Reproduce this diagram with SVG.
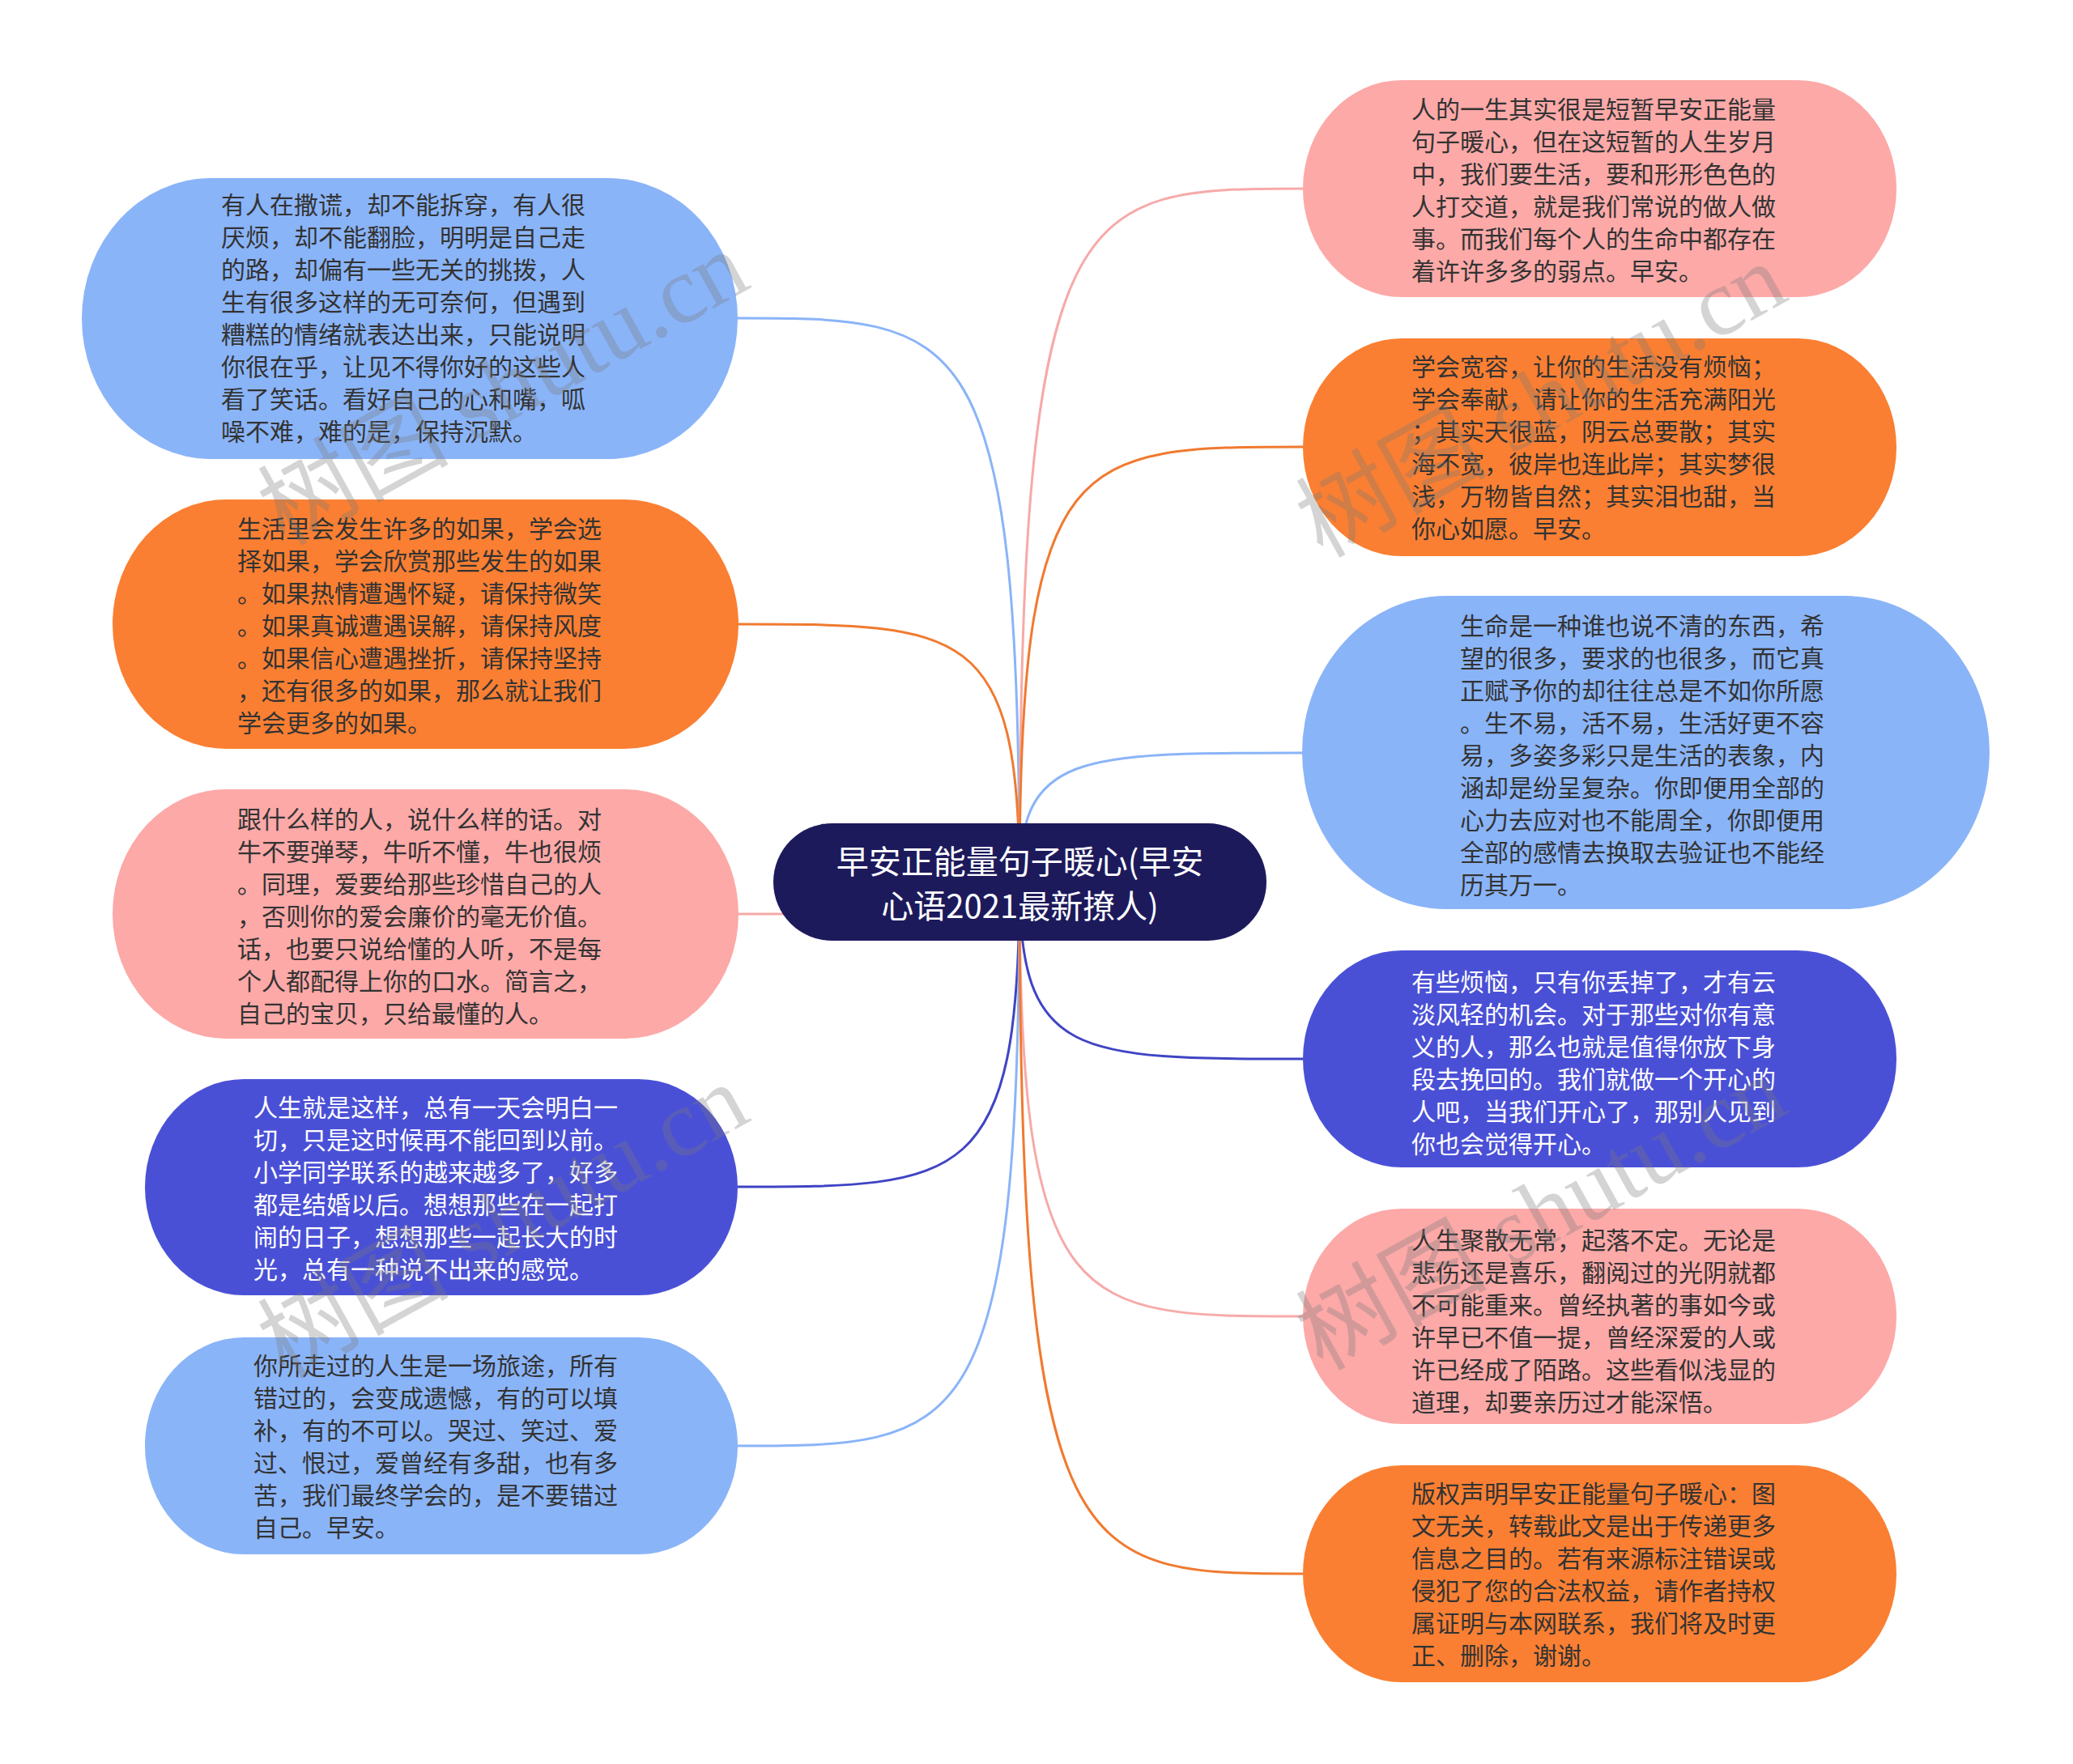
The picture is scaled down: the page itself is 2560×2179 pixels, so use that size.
<svg xmlns="http://www.w3.org/2000/svg" width="2560" height="2179" viewBox="0 0 2560 2179">
<style>
.bg{fill:#ffffff}
.t{font-family:"Noto Sans CJK SC","Noto Sans",sans-serif;font-size:30px;dominant-baseline:central}
.dk{fill:#333333}
.wt{fill:#ffffff}
.lb{fill:#8ab4f8}
.or{fill:#fa7f32}
.pk{fill:#fca9a8}
.db{fill:#4a50d6}
.nv{fill:#1d1a5c}
.c{fill:none;stroke-width:3}
.clb{stroke:#8ab4f8}
.cor{stroke:#f07a30}
.cpk{stroke:#f6aaa8}
.cdb{stroke:#3f44c4}
.title{font-family:"Noto Sans CJK SC","Noto Sans",sans-serif;font-size:40px;fill:#ffffff;dominant-baseline:central;text-anchor:middle}
.wm{font-family:"Liberation Serif","Noto Sans CJK SC",serif;font-size:118px;fill:#787878;fill-opacity:0.32}
</style>
<rect class="bg" x="0" y="0" width="2560" height="2179"/>
<g id="connectors">
<path class="c clb" d="M1259 1090 C1259 393,1189 393,911 393"/>
<path class="c cor" d="M1259 1090 C1259 771,1189 771,911 771"/>
<path class="c cpk" d="M1259 1090 C1259 1129,1189 1129,911 1129"/>
<path class="c cdb" d="M1259 1090 C1259 1466,1189 1466,911 1466"/>
<path class="c clb" d="M1259 1090 C1259 1786,1189 1786,911 1786"/>
<path class="c cpk" d="M1259 1090 C1259 233,1329 233,1609 233"/>
<path class="c cor" d="M1259 1090 C1259 552,1329 552,1609 552"/>
<path class="c clb" d="M1259 1090 C1259 930,1329 930,1608 930"/>
<path class="c cdb" d="M1259 1090 C1259 1308,1329 1308,1609 1308"/>
<path class="c cpk" d="M1259 1090 C1259 1626,1329 1626,1609 1626"/>
<path class="c cor" d="M1259 1090 C1259 1944,1329 1944,1609 1944"/>
</g>
<g id="center">
<rect class="nv" x="955" y="1017" width="609" height="145" rx="72.5" ry="72.5"/>
<text class="title" x="1259.5" y="1062">早安正能量句子暖心(早安</text>
<text class="title" x="1259.5" y="1117">心语2021最新撩人)</text>
</g>
<g id="node-l1">
<rect class="lb" x="101" y="220" width="810" height="347" rx="160" ry="173.5"/>
<text class="t dk"><tspan x="273" y="251">有人在撒谎，却不能拆穿，有人很</tspan><tspan x="273" y="291">厌烦，却不能翻脸，明明是自己走</tspan><tspan x="273" y="331">的路，却偏有一些无关的挑拨，人</tspan><tspan x="273" y="371">生有很多这样的无可奈何，但遇到</tspan><tspan x="273" y="411">糟糕的情绪就表达出来，只能说明</tspan><tspan x="273" y="451">你很在乎，让见不得你好的这些人</tspan><tspan x="273" y="491">看了笑话。看好自己的心和嘴，呱</tspan><tspan x="273" y="531">噪不难，难的是，保持沉默。</tspan></text>
</g>
<g id="node-l2">
<rect class="or" x="139" y="617" width="773" height="308" rx="140" ry="154"/>
<text class="t dk"><tspan x="293" y="651">生活里会发生许多的如果，学会选</tspan><tspan x="293" y="691">择如果，学会欣赏那些发生的如果</tspan><tspan x="293" y="731">。如果热情遭遇怀疑，请保持微笑</tspan><tspan x="293" y="771">。如果真诚遭遇误解，请保持风度</tspan><tspan x="293" y="811">。如果信心遭遇挫折，请保持坚持</tspan><tspan x="293" y="851">，还有很多的如果，那么就让我们</tspan><tspan x="293" y="891">学会更多的如果。</tspan></text>
</g>
<g id="node-l3">
<rect class="pk" x="139" y="975" width="773" height="308" rx="140" ry="154"/>
<text class="t dk"><tspan x="293" y="1010">跟什么样的人，说什么样的话。对</tspan><tspan x="293" y="1050">牛不要弹琴，牛听不懂，牛也很烦</tspan><tspan x="293" y="1090">。同理，爱要给那些珍惜自己的人</tspan><tspan x="293" y="1130">，否则你的爱会廉价的毫无价值。</tspan><tspan x="293" y="1170">话，也要只说给懂的人听，不是每</tspan><tspan x="293" y="1210">个人都配得上你的口水。简言之，</tspan><tspan x="293" y="1250">自己的宝贝，只给最懂的人。</tspan></text>
</g>
<g id="node-l4">
<rect class="db" x="179" y="1333" width="732" height="267" rx="122" ry="133.5"/>
<text class="t wt"><tspan x="313" y="1366">人生就是这样，总有一天会明白一</tspan><tspan x="313" y="1406">切，只是这时候再不能回到以前。</tspan><tspan x="313" y="1446">小学同学联系的越来越多了，好多</tspan><tspan x="313" y="1486">都是结婚以后。想想那些在一起打</tspan><tspan x="313" y="1526">闹的日子，想想那些一起长大的时</tspan><tspan x="313" y="1566">光，总有一种说不出来的感觉。</tspan></text>
</g>
<g id="node-l5">
<rect class="lb" x="179" y="1652" width="732" height="268" rx="122" ry="134"/>
<text class="t dk"><tspan x="313" y="1685">你所走过的人生是一场旅途，所有</tspan><tspan x="313" y="1725">错过的，会变成遗憾，有的可以填</tspan><tspan x="313" y="1765">补，有的不可以。哭过、笑过、爱</tspan><tspan x="313" y="1805">过、恨过，爱曾经有多甜，也有多</tspan><tspan x="313" y="1845">苦，我们最终学会的，是不要错过</tspan><tspan x="313" y="1885">自己。早安。</tspan></text>
</g>
<g id="node-r1">
<rect class="pk" x="1609" y="99" width="733" height="268" rx="122" ry="134"/>
<text class="t dk"><tspan x="1743" y="133">人的一生其实很是短暂早安正能量</tspan><tspan x="1743" y="173">句子暖心，但在这短暂的人生岁月</tspan><tspan x="1743" y="213">中，我们要生活，要和形形色色的</tspan><tspan x="1743" y="253">人打交道，就是我们常说的做人做</tspan><tspan x="1743" y="293">事。而我们每个人的生命中都存在</tspan><tspan x="1743" y="333">着许许多多的弱点。早安。</tspan></text>
</g>
<g id="node-r2">
<rect class="or" x="1609" y="418" width="733" height="269" rx="122" ry="134.5"/>
<text class="t dk"><tspan x="1743" y="451">学会宽容，让你的生活没有烦恼；</tspan><tspan x="1743" y="491">学会奉献，请让你的生活充满阳光</tspan><tspan x="1743" y="531">；其实天很蓝，阴云总要散；其实</tspan><tspan x="1743" y="571">海不宽，彼岸也连此岸；其实梦很</tspan><tspan x="1743" y="611">浅，万物皆自然；其实泪也甜，当</tspan><tspan x="1743" y="651">你心如愿。早安。</tspan></text>
</g>
<g id="node-r3">
<rect class="lb" x="1608" y="736" width="849" height="387" rx="178" ry="193.5"/>
<text class="t dk"><tspan x="1803" y="771">生命是一种谁也说不清的东西，希</tspan><tspan x="1803" y="811">望的很多，要求的也很多，而它真</tspan><tspan x="1803" y="851">正赋予你的却往往总是不如你所愿</tspan><tspan x="1803" y="891">。生不易，活不易，生活好更不容</tspan><tspan x="1803" y="931">易，多姿多彩只是生活的表象，内</tspan><tspan x="1803" y="971">涵却是纷呈复杂。你即便用全部的</tspan><tspan x="1803" y="1011">心力去应对也不能周全，你即便用</tspan><tspan x="1803" y="1051">全部的感情去换取去验证也不能经</tspan><tspan x="1803" y="1091">历其万一。</tspan></text>
</g>
<g id="node-r4">
<rect class="db" x="1609" y="1174" width="733" height="268" rx="122" ry="134"/>
<text class="t wt"><tspan x="1743" y="1211">有些烦恼，只有你丢掉了，才有云</tspan><tspan x="1743" y="1251">淡风轻的机会。对于那些对你有意</tspan><tspan x="1743" y="1291">义的人，那么也就是值得你放下身</tspan><tspan x="1743" y="1331">段去挽回的。我们就做一个开心的</tspan><tspan x="1743" y="1371">人吧，当我们开心了，那别人见到</tspan><tspan x="1743" y="1411">你也会觉得开心。</tspan></text>
</g>
<g id="node-r5">
<rect class="pk" x="1609" y="1493" width="733" height="266" rx="122" ry="133"/>
<text class="t dk"><tspan x="1743" y="1530">人生聚散无常，起落不定。无论是</tspan><tspan x="1743" y="1570">悲伤还是喜乐，翻阅过的光阴就都</tspan><tspan x="1743" y="1610">不可能重来。曾经执著的事如今或</tspan><tspan x="1743" y="1650">许早已不值一提，曾经深爱的人或</tspan><tspan x="1743" y="1690">许已经成了陌路。这些看似浅显的</tspan><tspan x="1743" y="1730">道理，却要亲历过才能深悟。</tspan></text>
</g>
<g id="node-r6">
<rect class="or" x="1609" y="1810" width="733" height="268" rx="122" ry="134"/>
<text class="t dk"><tspan x="1743" y="1843">版权声明早安正能量句子暖心：图</tspan><tspan x="1743" y="1883">文无关，转载此文是出于传递更多</tspan><tspan x="1743" y="1923">信息之目的。若有来源标注错误或</tspan><tspan x="1743" y="1963">侵犯了您的合法权益，请作者持权</tspan><tspan x="1743" y="2003">属证明与本网联系，我们将及时更</tspan><tspan x="1743" y="2043">正、删除，谢谢。</tspan></text>
</g>
<g id="watermark">
<text class="wm" transform="translate(351,675) rotate(-29)">树图 shutu.cn</text>
<text class="wm" transform="translate(1633,690) rotate(-29)">树图 shutu.cn</text>
<text class="wm" transform="translate(351,1704) rotate(-29)">树图 shutu.cn</text>
<text class="wm" transform="translate(1633,1694) rotate(-29)">树图 shutu.cn</text>
</g>
</svg>
